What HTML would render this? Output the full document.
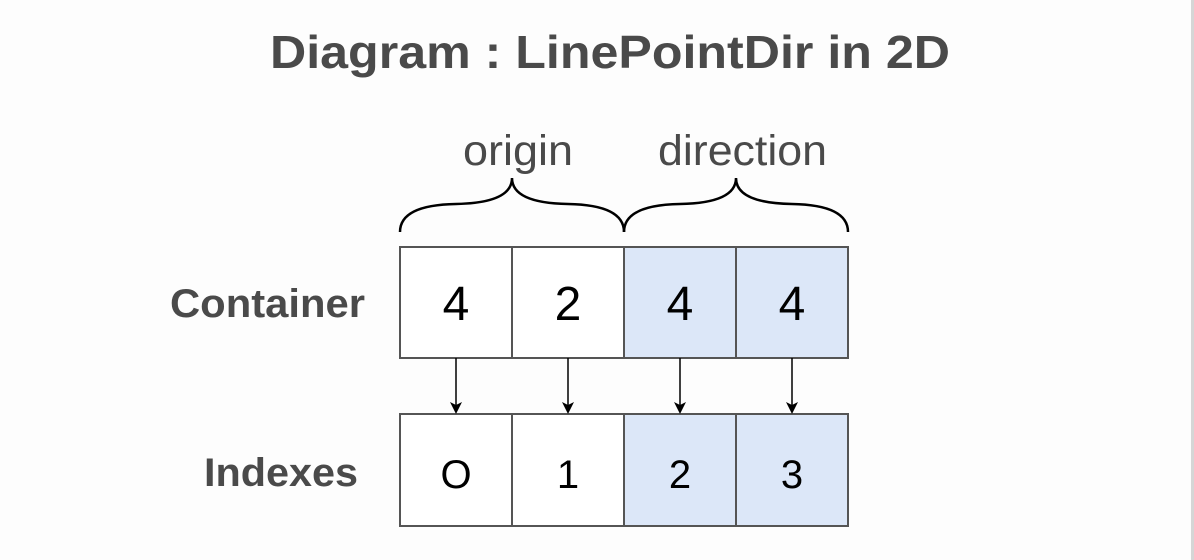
<!DOCTYPE html>
<html><head><style>
html,body{margin:0;padding:0;background:#fdfdfd;}
svg{display:block;}
</style></head><body>
<svg width="1194" height="560" xmlns="http://www.w3.org/2000/svg" font-family="Liberation Sans, Arial, sans-serif">
<rect x="0" y="0" width="1194" height="560" fill="#fdfdfd"/>
<rect x="1191" y="0" width="3" height="560" fill="#d6d6d6"/>
<text x="270" y="68" font-size="46" font-weight="bold" fill="#4a4a4a" textLength="680" lengthAdjust="spacingAndGlyphs">Diagram : LinePointDir in 2D</text>
<text x="463" y="165" font-size="43" fill="#4a4a4a" textLength="110" lengthAdjust="spacingAndGlyphs">origin</text>
<text x="658" y="165" font-size="43" fill="#4a4a4a" textLength="169" lengthAdjust="spacingAndGlyphs">direction</text>
<path d="M400,232 Q400,205 456,204 Q512,203 512,178 Q512,203 568,204 Q624,205 624,232" fill="none" stroke="#000" stroke-width="2.5"/>
<path d="M624,232 Q624,205 680,204 Q736,203 736,178 Q736,203 792,204 Q848,205 848,232" fill="none" stroke="#000" stroke-width="2.5"/>
<text x="170" y="317" font-size="40" font-weight="bold" fill="#4a4a4a" textLength="195" lengthAdjust="spacingAndGlyphs">Container</text>
<text x="204" y="486" font-size="40" font-weight="bold" fill="#4a4a4a" textLength="154" lengthAdjust="spacingAndGlyphs">Indexes</text>
<g stroke="#555" stroke-width="2">
<rect x="400" y="247" width="112" height="111" fill="#fff"/>
<rect x="512" y="247" width="112" height="111" fill="#fff"/>
<rect x="624" y="247" width="112" height="111" fill="#dce7f8"/>
<rect x="736" y="247" width="112" height="111" fill="#dce7f8"/>
<rect x="400" y="414" width="112" height="112" fill="#fff"/>
<rect x="512" y="414" width="112" height="112" fill="#fff"/>
<rect x="624" y="414" width="112" height="112" fill="#dce7f8"/>
<rect x="736" y="414" width="112" height="112" fill="#dce7f8"/>
</g>
<g font-size="48" text-anchor="middle" fill="#000">
<text x="456" y="320">4</text><text x="568" y="320">2</text><text x="680" y="320">4</text><text x="792" y="320">4</text>
</g>
<g font-size="40" text-anchor="middle" fill="#000">
<text x="456" y="488">O</text><text x="568" y="488">1</text><text x="680" y="488">2</text><text x="792" y="488">3</text>
</g>
<g stroke="#000" stroke-width="1.5">
<line x1="456" y1="358" x2="456" y2="405"/><line x1="568" y1="358" x2="568" y2="405"/>
<line x1="680" y1="358" x2="680" y2="405"/><line x1="792" y1="358" x2="792" y2="405"/>
</g>
<g fill="#000">
<path d="M450,402 L456,414 L462,402 L456,405 Z"/><path d="M562,402 L568,414 L574,402 L568,405 Z"/>
<path d="M674,402 L680,414 L686,402 L680,405 Z"/><path d="M786,402 L792,414 L798,402 L792,405 Z"/>
</g>
</svg>
</body></html>
